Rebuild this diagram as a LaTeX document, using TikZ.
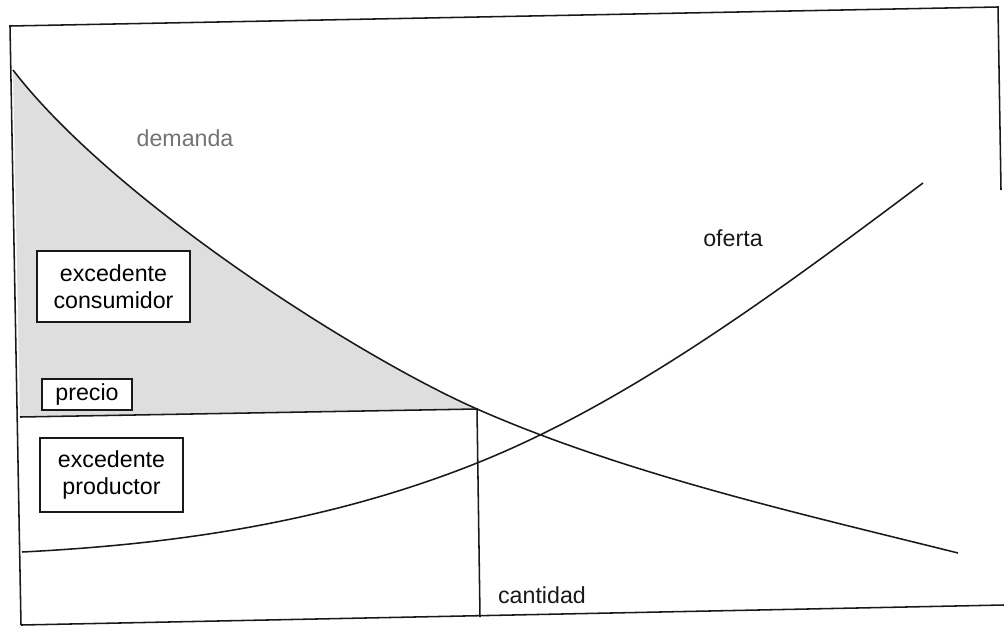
\documentclass[tikz,border=0pt]{standalone}
\usepackage{fontspec}
\setmainfont{Liberation Sans}
\usetikzlibrary{positioning}
\definecolor{surplusgray}{RGB}{222,222,222}
\definecolor{inkline}{RGB}{25,25,25}

\begin{document}
\begin{tikzpicture}[
	x=0.025cm, y=-0.025cm,
	font=\fontsize{16.5}{19.5}\selectfont,
	% Styles for lines
	frameline/.style={line width=1.1pt, inkline},
	curveline/.style={line width=1.1pt, inkline},
	% Styles for text and boxes
	surplusbox/.style={draw=inkline, line width=1.1pt, fill=white, align=center, inner sep=0pt},
	curvelabel/.style={inner sep=0pt, text=inkline}
	]
	\useasboundingbox (0,0) rectangle (1004,625);
	
	% ==========================================
	% FRAME
	% ==========================================
	\coordinate (tl) at (10,26);
	\coordinate (tr) at (998,7);
	\coordinate (rb) at (1001,190);
	\coordinate (bl) at (21,625);
	\coordinate (br) at (1004,605);
	\draw[frameline] (rb) -- (tr) -- (tl) -- (bl);
	\draw[frameline] (bl) -- (br);
	
	% ==========================================
	% KEY POINTS
	% ==========================================
	\coordinate (dtop) at (13,70);
	\coordinate (dend) at (958,553);
	\coordinate (sstart) at (22,552);
	\coordinate (smid) at (477,463);
	\coordinate (send) at (923,183);
	\coordinate (pleft) at (20,417);
	\coordinate (pright) at (477,409);
	\coordinate (qbase) at (480,617);
	
	% ==========================================
	% CONSUMER SURPLUS (shaded)
	% ==========================================
	\fill[surplusgray] (dtop) .. controls (113,200) and (357,356) .. (pright) -- (pleft) -- cycle;
	
	% ==========================================
	% CURVES
	% ==========================================
	% demand
	\draw[curveline] (dtop) .. controls (113,200) and (357,356) .. (pright)
		.. controls (627,475) and (808,515.5) .. (dend);
	% supply
	\draw[curveline] (sstart) .. controls (172,544.5) and (327,523) .. (smid)
		.. controls (627,403) and (773,295.5) .. (send);
	
	% price and quantity lines
	\draw[frameline] (pleft) -- (pright) -- (qbase);
	
	% ==========================================
	% LABELS
	% ==========================================
	\node[surplusbox, minimum width=3.83cm, minimum height=1.78cm] (consumidor) at (113.5,286.5) {excedente\\consumidor};
	\node[surplusbox, minimum width=2.25cm, minimum height=0.78cm] (precio) at (87,394.5) {precio};
	\node[surplusbox, minimum width=3.58cm, minimum height=1.85cm] (productor) at (111.5,475) {excedente\\productor};
	
	\node[curvelabel, text=black!55] (demanda) at (185,138) {demanda};
	\node[curvelabel] (oferta) at (733,238) {oferta};
	\node[curvelabel] (cantidad) at (542,595) {cantidad};
	
\end{tikzpicture}
\end{document}
